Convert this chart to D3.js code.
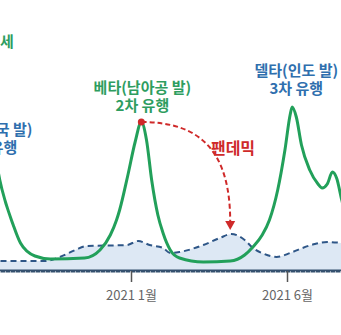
<!DOCTYPE html>
<html><head><meta charset="utf-8">
<script src="https://cdn.jsdelivr.net/npm/d3@7"></script>
<style>
html,body{margin:0;padding:0;background:#fff;overflow:hidden;}
svg{display:block;font-family:"Noto Sans CJK KR","Noto Sans",sans-serif;}
</style></head>
<body>
<script>
// green: 변이 유행 지수
const greenDates = ["2020-08-20","2020-08-27","2020-09-09","2020-09-16","2020-09-30","2020-10-15","2020-11-17","2020-12-02","2020-12-12","2020-12-18","2020-12-21","2020-12-29","2021-01-05","2021-01-11","2021-01-16","2021-01-21","2021-01-27","2021-02-01","2021-02-08","2021-02-17","2021-03-12","2021-04-07","2021-04-21","2021-04-29","2021-05-08","2021-05-15","2021-05-23","2021-05-30","2021-06-04","2021-06-06","2021-06-10","2021-06-15","2021-06-23","2021-07-01","2021-07-05","2021-07-10","2021-07-15","2021-07-19","2021-07-24","2021-08-01"];
const greenValues = [65.5,45.5,23,14,7.5,6,6.5,10.5,18,25.5,30.5,48,64.5,74.5,65.5,45.5,28,19,10.5,6.5,4.5,5,8,12,18,25.5,40.5,60.5,78,82,77,63,50.5,43.5,41.5,43.5,49.5,46.5,35.5,20.5];
// blue dashed area
const blueDates = ["2020-08-18","2020-10-10","2020-10-24","2020-11-08","2020-11-19","2020-12-28","2021-01-08","2021-01-19","2021-02-01","2021-02-08","2021-02-17","2021-03-12","2021-03-28","2021-04-08","2021-04-21","2021-04-29","2021-05-10","2021-05-22","2021-06-04","2021-06-16","2021-06-28","2021-07-10","2021-07-24","2021-08-01"];
const blueValues = [5,5,7,10.5,12.5,13,15,13,11.5,9,9.5,13,16.5,18.5,15.5,11.5,8.5,7,9,11.5,13.5,14.5,14,13.5];
const tickDates = ["2020-08-01","2021-01-01","2021-06-01"];
const tickLabels = ["2020 8월","2021 1월","2021 6월"];
const notes = [
  {lines:["알파(영국 발)","1차 유행"], date:"2020-08-18", color:"#2f6fae", y:[135,153]},
  {lines:["베타(남아공 발)","2차 유행"], date:"2021-01-12", color:"#2e9d5f", y:[93,111]},
  {lines:["델타(인도 발)","3차 유행"], date:"2021-06-10", color:"#2f6fae", y:[76,94]}
];

const W=341,H=335;
const parse=d3.utcParse("%Y-%m-%d");
const x=d3.scaleUtc().domain([parse("2021-01-01"),parse("2021-06-01")]).range([131,287]);
const y=d3.scaleLinear().domain([0,100]).range([271,71]);
const svg=d3.select("body").append("svg").attr("width",W).attr("height",H);

const blue=blueDates.map((d,i)=>({d:parse(d),v:blueValues[i]}));
const green=greenDates.map((d,i)=>({d:parse(d),v:greenValues[i]}));

svg.append("path").datum(blue)
  .attr("d",d3.area().x(p=>x(p.d)).y0(y(0)).y1(p=>y(p.v)).curve(d3.curveMonotoneX))
  .attr("fill","#dde8f4");
svg.append("path").datum(blue)
  .attr("d",d3.line().x(p=>x(p.d)).y(p=>y(p.v)).curve(d3.curveMonotoneX))
  .attr("fill","none").attr("stroke","#2e5687").attr("stroke-width",2).attr("stroke-dasharray","6,4");

svg.append("path").datum(green)
  .attr("d",d3.line().x(p=>x(p.d)).y(p=>y(p.v)).curve(d3.curveMonotoneX))
  .attr("fill","none").attr("stroke","#22a05a").attr("stroke-width",3).attr("stroke-linejoin","round");

// axis
const ax=svg.append("g").attr("transform",`translate(0,${y(0)})`)
  .call(d3.axisBottom(x).tickValues(tickDates.map(parse)).tickFormat((d,i)=>tickLabels[i]).tickSize(11).tickPadding(9));
ax.select(".domain").attr("stroke","#34506e").attr("stroke-width",3).attr("d",`M-5,0H${W+5}`);
ax.selectAll(".tick line").attr("stroke","#555").attr("stroke-width",1.5);
ax.selectAll(".tick text").attr("fill","#666").attr("font-size",13).attr("font-family","'Noto Sans CJK KR',sans-serif");
svg.append("line").attr("x1",-5).attr("x2",W+5).attr("y1",y(0)+1).attr("y2",y(0)+1)
  .attr("stroke","#fff").attr("stroke-width",1).attr("stroke-dasharray","1,4");

// annotations
svg.append("text").attr("x",0).attr("y",47).attr("fill","#2e9d5f").attr("font-size",15).attr("font-weight",700).text("세");
notes.forEach(n=>{
  n.lines.forEach((t,i)=>{
    svg.append("text").attr("x",x(parse(n.date))).attr("y",n.y[i]).attr("text-anchor","middle")
      .attr("fill",n.color).attr("font-size",15).attr("font-weight",700).text(t);
  });
});

// pandemic arrow from beta peak to blue bump
const bp=green[greenValues.indexOf(d3.max(greenValues.slice(0,20)))];
const bb=blue[blueValues.indexOf(d3.max(blueValues))];
const sx=x(bp.d),sy=y(bp.v),ex=x(bb.d)-1,ey=y(bb.v)-4;
svg.append("path").attr("d",`M${sx},${sy} C${sx+60},${sy} ${ex},${sy+30} ${ex},${ey-8}`)
  .attr("fill","none").attr("stroke","#cf2a2a").attr("stroke-width",2).attr("stroke-dasharray","5,3");
svg.append("path").attr("d",`M${ex-5},${ey-9} L${ex+5},${ey-9} L${ex},${ey} Z`).attr("fill","#cf2a2a");
svg.append("circle").attr("cx",sx).attr("cy",sy).attr("r",3.5).attr("fill","#cf2a2a");
svg.append("text").attr("x",233).attr("y",154).attr("text-anchor","middle").attr("fill","#cf2a2a")
  .attr("font-size",16).attr("font-weight",700).text("팬데믹");
</script>
</body></html>
